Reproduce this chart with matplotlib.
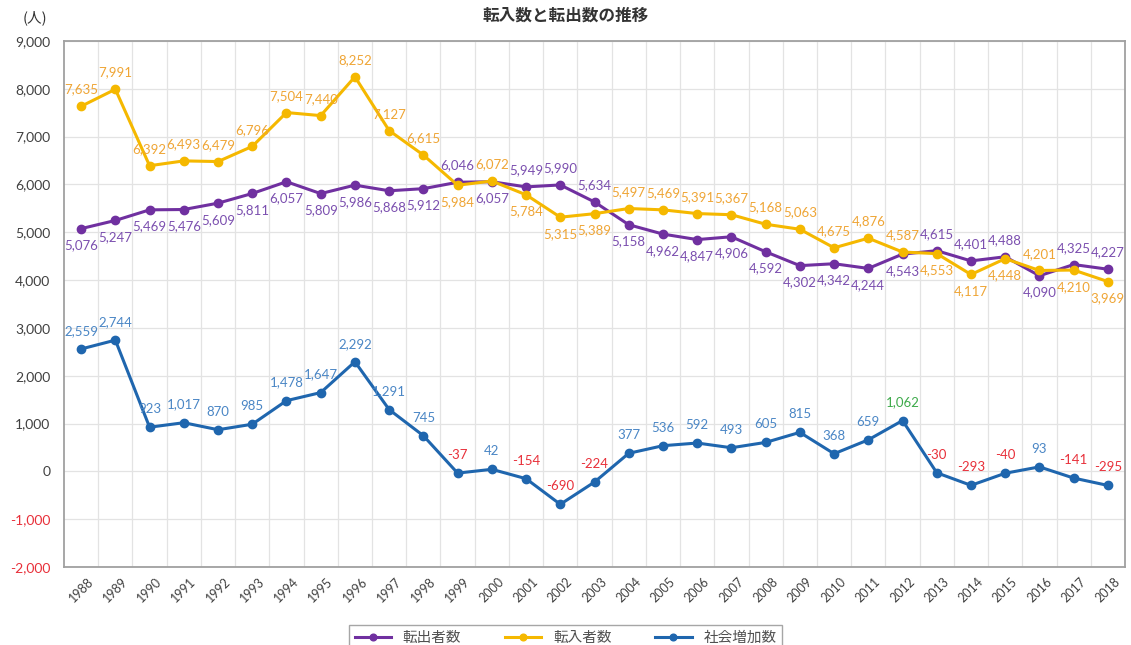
import numpy as np
import matplotlib.pyplot as plt
from matplotlib.ticker import FuncFormatter, MultipleLocator

# データ
years = [str(y) for y in range(1988, 2019)]
tenshutsu = [5076, 5247, 5469, 5476, 5609, 5811, 6057, 5809, 5986, 5868, 5912,
             6046, 6057, 5949, 5990, 5634, 5158, 4962, 4847, 4906, 4592, 4302,
             4342, 4244, 4543, 4615, 4401, 4488, 4090, 4325, 4227]
tennyu = [7635, 7991, 6392, 6493, 6479, 6796, 7504, 7440, 8252, 7127, 6615,
          5984, 6072, 5784, 5315, 5389, 5497, 5469, 5391, 5367, 5168, 5063,
          4675, 4876, 4587, 4553, 4117, 4448, 4201, 4210, 3969]
shakai = [2559, 2744, 923, 1017, 870, 985, 1478, 1647, 2292, 1291, 745,
          -37, 42, -154, -690, -224, 377, 536, 592, 493, 605, 815,
          368, 659, 1062, -30, -293, -40, 93, -141, -295]

# ラベルの上下 (1=上, -1=下)
pos_out = [-1] * 11 + [1, -1, 1, 1, 1] + [-1] * 9 + [1, 1, 1, -1, 1, 1]
pos_in = [1] * 11 + [-1, 1, -1, -1, -1] + [1] * 9 + [-1, -1, -1, 1, -1, -1]

JP = ['Noto Sans CJK JP', 'DejaVu Sans']
plt.rcParams['font.family'] = ['Lato', 'Noto Sans CJK JP', 'DejaVu Sans']

fig = plt.figure(figsize=(11.31, 6.45), dpi=100)
ax = fig.add_axes([0.0566, 0.121, 0.9381, 0.8154])

x = np.arange(len(years))
c_out, c_in, c_soc = '#7030A0', '#F5B800', '#1F66AE'
ax.plot(x, tenshutsu, color=c_out, lw=2.2, marker='o', ms=6, label='転出者数', zorder=3)
ax.plot(x, tennyu, color=c_in, lw=2.2, marker='o', ms=6, label='転入者数', zorder=3)
ax.plot(x, shakai, color=c_soc, lw=2.2, marker='o', ms=6, label='社会増加数', zorder=3)

fs = 9.5
for i in x:
    ax.annotate(f'{tenshutsu[i]:,}', (i, tenshutsu[i]), xytext=(0, 12 * pos_out[i]),
                textcoords='offset points', ha='center', va='center',
                color='#7B4FAF', fontsize=fs, zorder=4)
    ax.annotate(f'{tennyu[i]:,}', (i, tennyu[i]), xytext=(0, 12 * pos_in[i]),
                textcoords='offset points', ha='center', va='center',
                color='#EFA535', fontsize=fs, zorder=4)
    v = shakai[i]
    col = '#E8303A' if v < 0 else ('#3DAA4A' if v == max(shakai[11:]) else '#4A86C5')
    ax.annotate(f'{v:,}', (i, v), xytext=(0, 13),
                textcoords='offset points', ha='center', va='center',
                color=col, fontsize=fs, zorder=4)

ax.set_xlim(-0.5, len(years) - 0.5)
ax.set_ylim(-2000, 9000)
ax.yaxis.set_major_locator(MultipleLocator(1000))
ax.yaxis.set_major_formatter(FuncFormatter(lambda v, p: f'{int(v):,}'))
ax.set_xticks(x)
ax.set_xticklabels(years, rotation=45, fontsize=9, color='#404040')
ax.set_xticks(x[:-1] + 0.5, minor=True)
ax.tick_params(axis='x', which='both', length=0, pad=6)
ax.tick_params(axis='y', length=0, labelsize=10, labelcolor='#404040', pad=10)
fig.canvas.draw()
for lab, v in zip(ax.get_yticklabels(), ax.get_yticks()):
    if v < 0:
        lab.set_color('#E8303A')

ax.grid(axis='y', which='major', color='#E3E3E3', lw=0.9)
ax.grid(axis='x', which='minor', color='#E3E3E3', lw=0.9)
ax.set_axisbelow(True)
for s in ax.spines.values():
    s.set_color('#A0A0A0')
    s.set_linewidth(1.3)

fig.text(0.5, 0.976, '転入数と転出数の推移', ha='center', va='center',
         fontsize=12, fontweight='bold', family=JP, color='#333333')
fig.text(0.02, 0.972, '(人)', ha='left', va='center', fontsize=10.5,
         family=JP, color='#333333')

leg = fig.legend(loc='upper center', bbox_to_anchor=(0.5, 0.042), ncol=3,
                 prop={'family': JP, 'size': 10.5}, frameon=True, fancybox=False,
                 edgecolor='#909090', handlelength=2.5, columnspacing=3,
                 borderpad=0.4, markerscale=0.8)
for t in leg.get_texts():
    t.set_color('#505050')

fig.savefig('out.png', dpi=100)
